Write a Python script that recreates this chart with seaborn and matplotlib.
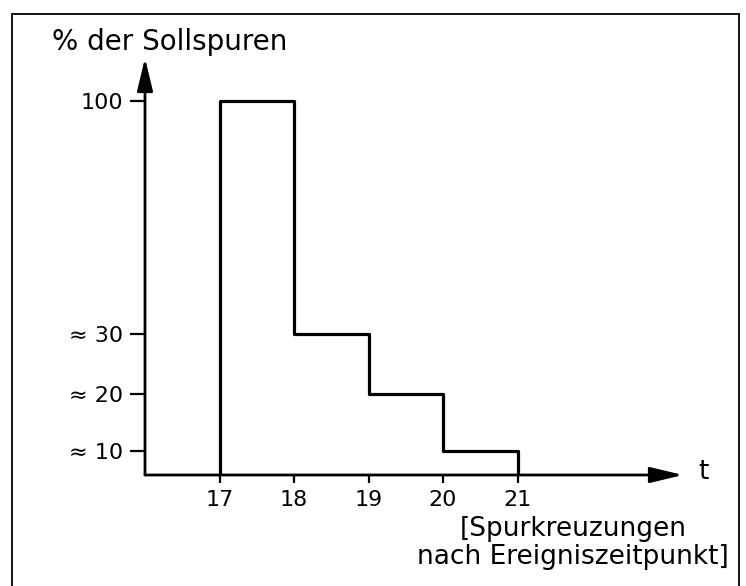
import numpy as np
import pandas as pd
import seaborn as sns
import matplotlib.pyplot as plt
from matplotlib.lines import Line2D

sns.set_style('white')
plt.rcParams['font.family'] = ['DejaVu Sans']
plt.rcParams['text.color'] = 'black'
plt.rcParams['xtick.color'] = 'black'
plt.rcParams['ytick.color'] = 'black'

# step edges (Spurkreuzungen) and share of target tracks per step
edges = [17, 18, 19, 20, 21]
anteil = [100, 30, 20, 10]
ytick_vals = [100, 30, 20, 10]
ytick_labels = ['100', '≈ 30', '≈ 20', '≈ 10']
xtick_vals = [17, 18, 19, 20, 21]

# schematic (non-linear) value axis as in the sketch
basis = 5
stuetz_wert = [5, 10, 20, 30, 100, 120]
stuetz_pos = [0, 24, 81, 141, 374, 417]

def fwd(v):
    return np.interp(v, stuetz_wert, stuetz_pos)

def inv(p):
    return np.interp(p, stuetz_pos, stuetz_wert)

xs = [edges[0]] + edges + [edges[-1]]
ys = [basis] + anteil + [anteil[-1], basis]
df = pd.DataFrame({'t': xs, 'p': ys})

fig = plt.figure(figsize=(7.46, 5.86), dpi=100)
ax = fig.add_axes([145 / 746, 1 - 475 / 586, (683 - 145) / 746, 417 / 586])
ax.set_yscale('function', functions=(fwd, inv))

sns.lineplot(data=df, x='t', y='p', estimator=None, sort=False,
             drawstyle='steps-post', color='black', lw=2.3, ax=ax)

ax.set_xlim(16, 23.22)
ax.set_ylim(basis, 120)
for s in ax.spines.values():
    s.set_visible(False)

# axis arrows
pfeil = dict(arrowstyle='-|>,head_length=1.0,head_width=0.24',
             mutation_scale=20, lw=2.0, color='black', shrinkA=0, shrinkB=0)
ax.annotate('', xy=(1, 0), xytext=(0, 0), xycoords='axes fraction', arrowprops=pfeil)
ax.annotate('', xy=(0, 1), xytext=(0, 0), xycoords='axes fraction', arrowprops=pfeil)

ax.set_yticks(ytick_vals)
ax.set_yticklabels(ytick_labels)
ax.yaxis.set_minor_locator(plt.NullLocator())
ax.set_xticks(xtick_vals)
ax.set_xticklabels([str(v) for v in xtick_vals])
ax.tick_params(axis='y', direction='out', length=11, width=1.6, pad=5,
               labelsize=16, left=True)
ax.tick_params(axis='x', direction='out', length=6, width=1.6, pad=5,
               labelsize=16, bottom=True)
ax.set_xlabel('')
ax.set_ylabel('')

fig.text(52 / 746, 1 - 50 / 586, '% der Sollspuren', fontsize=20, ha='left', va='baseline')
fig.text(703 / 746, 1 - 472 / 586, 't', fontsize=19, ha='center', va='center')
fig.text(573 / 746, 1 - 543 / 586, '[Spurkreuzungen\nnach Ereigniszeitpunkt]',
         fontsize=19, ha='center', va='center', linespacing=1.1)

# frame around the sketch
for xx, yy in [([12, 739], [14, 14]), ([12, 12], [14, 586]), ([739, 739], [14, 586])]:
    fig.add_artist(Line2D([x / 746 for x in xx], [1 - y / 586 for y in yy],
                          color='black', lw=1.3))

fig.savefig('out.png', dpi=100)
